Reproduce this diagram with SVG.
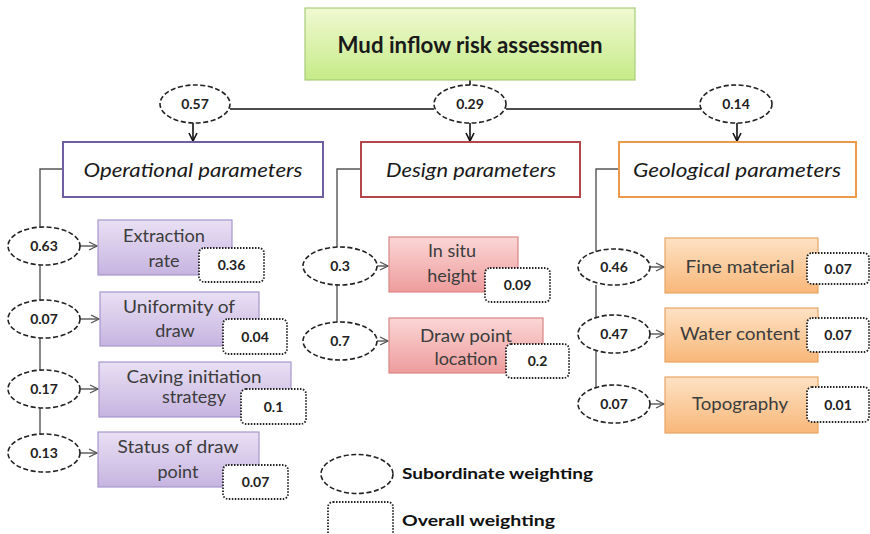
<svg xmlns="http://www.w3.org/2000/svg" width="870" height="534" viewBox="0 0 870 534">
<defs>
<linearGradient id="gGreen" x1="0" y1="0" x2="0" y2="1"><stop offset="0" stop-color="#f0f9d2"/><stop offset="1" stop-color="#c6eb88"/></linearGradient>
<linearGradient id="gPurple" x1="0" y1="0" x2="0" y2="1"><stop offset="0" stop-color="#e9e0f4"/><stop offset="1" stop-color="#c6b4e0"/></linearGradient>
<linearGradient id="gPink" x1="0" y1="0" x2="0" y2="1"><stop offset="0" stop-color="#fbd6d6"/><stop offset="1" stop-color="#ee9c9c"/></linearGradient>
<linearGradient id="gOrange" x1="0" y1="0" x2="0" y2="1"><stop offset="0" stop-color="#fde2c4"/><stop offset="1" stop-color="#f8b779"/></linearGradient>
<marker id="arr" viewBox="0 0 10 10" refX="9" refY="5" markerWidth="10" markerHeight="10" markerUnits="userSpaceOnUse" orient="auto">
<polyline points="1,1 9,5 1,9" fill="none" stroke="#555" stroke-width="1.3"/>
</marker>
<marker id="arrB" viewBox="0 0 10 10" refX="9" refY="5" markerWidth="10" markerHeight="10" markerUnits="userSpaceOnUse" orient="auto">
<polyline points="1,1 9,5 1,9" fill="none" stroke="#111" stroke-width="1.6"/>
</marker>
</defs>
<style>
.sub{fill:#fff;stroke:#222;stroke-width:1.6;stroke-dasharray:5,2.5}
.ov{fill:#fff;stroke:#222;stroke-width:1.8;stroke-dasharray:1.5,1.5}
.num{font-family:"Lato","Liberation Sans",sans-serif;font-weight:bold;font-size:14px;fill:#222;text-anchor:middle}
.lbl{font-family:"Lato","Liberation Sans",sans-serif;font-size:18px;fill:#3c3c3c;text-anchor:middle}
.hdr{font-family:"Lato","Liberation Sans",sans-serif;font-style:italic;font-size:20px;fill:#1a1a1a;text-anchor:middle}
.leg{font-family:"Lato","Liberation Sans",sans-serif;font-weight:bold;font-size:16px;fill:#111}
.pb{fill:url(#gPurple);stroke:#a796cc;stroke-width:1.2}
.rb{fill:url(#gPink);stroke:#d98585;stroke-width:1.2}
.ob{fill:url(#gOrange);stroke:#e8a564;stroke-width:1.2}
.ln{fill:none;stroke:#555;stroke-width:1.4}
.lnb{fill:none;stroke:#111;stroke-width:1.6}
</style>
<g id="connectors">
<line class="lnb" x1="470" y1="80" x2="470" y2="86"/>
<line class="lnb" x1="230" y1="109" x2="434" y2="109"/>
<line class="lnb" x1="506" y1="109" x2="701" y2="109"/>
<line class="lnb" x1="193" y1="123" x2="193" y2="141" marker-end="url(#arrB)"/>
<line class="lnb" x1="470" y1="123" x2="470" y2="141" marker-end="url(#arrB)"/>
<line class="lnb" x1="737" y1="123" x2="737" y2="141" marker-end="url(#arrB)"/>
<polyline class="ln" points="63,169 40,169 40,228"/>
<line class="ln" x1="40" y1="265" x2="40" y2="300"/>
<line class="ln" x1="40" y1="338" x2="40" y2="370"/>
<line class="ln" x1="40" y1="408" x2="40" y2="434"/>
<line class="ln" x1="80" y1="246" x2="97" y2="246" marker-end="url(#arr)"/>
<line class="ln" x1="80" y1="319" x2="99" y2="319" marker-end="url(#arr)"/>
<line class="ln" x1="80" y1="389" x2="98" y2="389" marker-end="url(#arr)"/>
<line class="ln" x1="80" y1="453" x2="97" y2="453" marker-end="url(#arr)"/>
<polyline class="ln" points="361,169 337,169 337,247"/>
<line class="ln" x1="337" y1="285" x2="337" y2="322"/>
<line class="ln" x1="377" y1="266" x2="388" y2="266" marker-end="url(#arr)"/>
<line class="ln" x1="377" y1="341" x2="388" y2="341" marker-end="url(#arr)"/>
<polyline class="ln" points="619,169 596,169 596,252"/>
<line class="ln" x1="596" y1="285" x2="596" y2="318"/>
<line class="ln" x1="596" y1="351" x2="596" y2="388"/>
<line class="ln" x1="650" y1="267" x2="664" y2="267" marker-end="url(#arr)"/>
<line class="ln" x1="650" y1="334" x2="664" y2="334" marker-end="url(#arr)"/>
<line class="ln" x1="650" y1="404" x2="664" y2="404" marker-end="url(#arr)"/>
</g>
<g id="root">
<rect x="305" y="8" width="330" height="72" fill="url(#gGreen)" stroke="#a8cc78" stroke-width="1.2"/>
<text x="470" y="53" font-family="Lato,'Liberation Sans',sans-serif" font-weight="bold" font-size="22" fill="#1a1a1a" text-anchor="middle" textLength="265" lengthAdjust="spacingAndGlyphs">Mud inflow risk assessmen</text>
</g>
<g id="w057"><ellipse class="sub" cx="195" cy="104" rx="35" ry="19"/><text class="num" x="195" y="109">0.57</text></g>
<g id="w029"><ellipse class="sub" cx="470" cy="104" rx="36" ry="19"/><text class="num" x="470" y="109">0.29</text></g>
<g id="w014"><ellipse class="sub" cx="736" cy="104" rx="36" ry="19"/><text class="num" x="736" y="109">0.14</text></g>
<g id="operational"><rect x="63" y="142" width="260" height="55" fill="#fff" stroke="#6f5fa0" stroke-width="2"/><text class="hdr" x="193" y="177" textLength="219" lengthAdjust="spacingAndGlyphs">Operational parameters</text></g>
<g id="design"><rect x="361" y="142" width="219" height="55" fill="#fff" stroke="#b5464a" stroke-width="2"/><text class="hdr" x="471" y="177" textLength="170" lengthAdjust="spacingAndGlyphs">Design parameters</text></g>
<g id="geological"><rect x="619" y="142" width="237" height="55" fill="#fff" stroke="#ec9a4a" stroke-width="2"/><text class="hdr" x="737" y="177" textLength="208" lengthAdjust="spacingAndGlyphs">Geological parameters</text></g>

<g id="op1"><ellipse class="sub" cx="44" cy="246" rx="36" ry="19"/><text class="num" x="44" y="251">0.63</text>
<rect class="pb" x="98" y="220" width="134" height="55"/><text class="lbl" x="164" y="242" textLength="82" lengthAdjust="spacingAndGlyphs">Extraction</text><text class="lbl" x="164" y="267">rate</text>
<rect class="ov" x="199" y="248" width="65" height="34" rx="5"/><text class="num" x="231.5" y="270">0.36</text></g>
<g id="op2"><ellipse class="sub" cx="44" cy="319" rx="36" ry="19"/><text class="num" x="44" y="324">0.07</text>
<rect class="pb" x="100" y="292" width="159" height="54"/><text class="lbl" x="179" y="313" textLength="112" lengthAdjust="spacingAndGlyphs">Uniformity of</text><text class="lbl" x="175" y="337">draw</text>
<rect class="ov" x="223" y="319" width="64" height="35" rx="5"/><text class="num" x="255" y="342">0.04</text></g>
<g id="op3"><ellipse class="sub" cx="44" cy="389" rx="36" ry="19"/><text class="num" x="44" y="394">0.17</text>
<rect class="pb" x="99" y="362" width="192" height="55"/><text class="lbl" x="194" y="383" textLength="135" lengthAdjust="spacingAndGlyphs">Caving initiation</text><text class="lbl" x="194" y="403">strategy</text>
<rect class="ov" x="241" y="389" width="65" height="35" rx="5"/><text class="num" x="273.5" y="412">0.1</text></g>
<g id="op4"><ellipse class="sub" cx="44" cy="453" rx="36" ry="19"/><text class="num" x="44" y="458">0.13</text>
<rect class="pb" x="98" y="432" width="161" height="55"/><text class="lbl" x="178" y="453" textLength="121" lengthAdjust="spacingAndGlyphs">Status of draw</text><text class="lbl" x="178" y="478">point</text>
<rect class="ov" x="223" y="465" width="65" height="34" rx="5"/><text class="num" x="255.5" y="487">0.07</text></g>

<g id="de1"><ellipse class="sub" cx="340" cy="266" rx="37" ry="19"/><text class="num" x="340" y="271">0.3</text>
<rect class="rb" x="389" y="237" width="129" height="55"/><text class="lbl" x="452" y="257">In situ</text><text class="lbl" x="452" y="282">height</text>
<rect class="ov" x="485" y="268" width="65" height="34" rx="5"/><text class="num" x="517.5" y="290">0.09</text></g>
<g id="de2"><ellipse class="sub" cx="340" cy="341" rx="37" ry="19"/><text class="num" x="340" y="346">0.7</text>
<rect class="rb" x="389" y="318" width="154" height="55"/><text class="lbl" x="466" y="342" textLength="92" lengthAdjust="spacingAndGlyphs">Draw point</text><text class="lbl" x="466" y="365">location</text>
<rect class="ov" x="506" y="344" width="63" height="34" rx="5"/><text class="num" x="537.5" y="366">0.2</text></g>

<g id="ge1"><ellipse class="sub" cx="614" cy="267" rx="36" ry="18"/><text class="num" x="614" y="272">0.46</text>
<rect class="ob" x="665" y="238" width="153" height="55"/><text class="lbl" x="740" y="273" textLength="109" lengthAdjust="spacingAndGlyphs">Fine material</text>
<rect class="ov" x="807" y="253" width="62" height="31" rx="5"/><text class="num" x="838" y="274">0.07</text></g>
<g id="ge2"><ellipse class="sub" cx="614" cy="334" rx="36" ry="19"/><text class="num" x="614" y="339">0.47</text>
<rect class="ob" x="665" y="308" width="153" height="54"/><text class="lbl" x="740" y="340" textLength="120" lengthAdjust="spacingAndGlyphs">Water content</text>
<rect class="ov" x="807" y="318" width="62" height="34" rx="5"/><text class="num" x="838" y="340">0.07</text></g>
<g id="ge3"><ellipse class="sub" cx="614" cy="404" rx="36" ry="19"/><text class="num" x="614" y="409">0.07</text>
<rect class="ob" x="665" y="377" width="153" height="56"/><text class="lbl" x="740" y="410" textLength="96" lengthAdjust="spacingAndGlyphs">Topography</text>
<rect class="ov" x="807" y="387" width="62" height="35" rx="5"/><text class="num" x="838" y="409.5">0.01</text></g>

<g id="legend">
<ellipse class="sub" cx="357" cy="474" rx="36" ry="19.5"/>
<text class="leg" x="402" y="479" textLength="191" lengthAdjust="spacingAndGlyphs">Subordinate weighting</text>
<rect class="ov" x="328" y="502" width="65" height="36" rx="5"/>
<text class="leg" x="402" y="526" textLength="153" lengthAdjust="spacingAndGlyphs">Overall weighting</text>
</g>
</svg>
